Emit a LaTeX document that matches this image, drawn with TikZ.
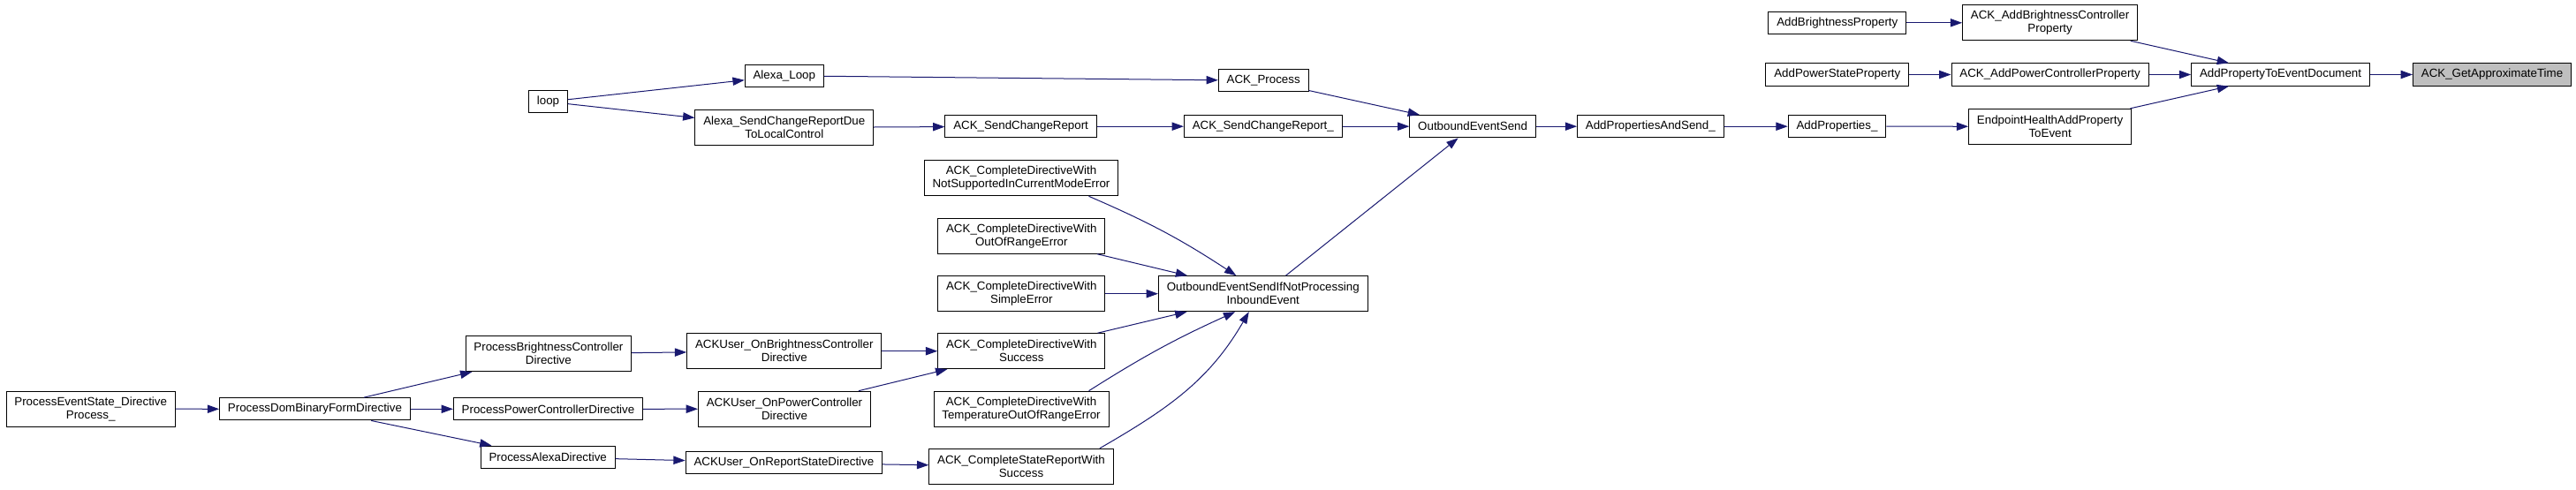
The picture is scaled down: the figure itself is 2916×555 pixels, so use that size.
\documentclass[tikz,border=0pt]{standalone}
\usepackage{fontspec}
\setmainfont{Liberation Sans}
\usetikzlibrary{arrows.meta}
\definecolor{edgeblue}{HTML}{191970}

\begin{document}
\begin{tikzpicture}[
    x=0.75pt, y=-0.75pt,
    font=\fontsize{10}{11.25}\selectfont,
    fn/.style={draw=black, line width=0.75pt, fill=white, align=center,
               inner xsep=7pt, inner ysep=2pt, minimum height=19pt},
    two/.style={fn, minimum height=30pt},
    cur/.style={fn, fill=black!25},
    call/.style={draw=edgeblue, line width=0.75pt,
                 -{Triangle[length=10pt,width=7pt]}}
]
\useasboundingbox (0,0) rectangle (2916,555);

% ── Left part: directive processing ───────────────────────
\node[two] (pes)  at (102.7,463.2) {ProcessEventState\_Directive\\Process\_};
\node[fn]  (pdbf) at (356.5,463.3) {ProcessDomBinaryFormDirective};
\node[fn]  (loop) at (620.5,115.2) {loop};
\node[two] (pbcd) at (620.9,400.7) {ProcessBrightnessController\\Directive};
\node[fn]  (ppcd) at (620.5,463.3) {ProcessPowerControllerDirective};
\node[fn]  (pad)  at (620.2,517.8) {ProcessAlexaDirective};

% ── Alexa / ACKUser column ─────────────────────────────────
\node[fn]  (aloop) at (887.8,85.8)  {Alexa\_Loop};
\node[two] (ascr)  at (887.8,144.5) {Alexa\_SendChangeReportDue\\ToLocalControl};
\node[two] (uobc)  at (887.8,397.7) {ACKUser\_OnBrightnessController\\Directive};
\node[two] (uopc)  at (888.0,463.2) {ACKUser\_OnPowerController\\Directive};
\node[fn]  (uors)  at (887.4,524.3) {ACKUser\_OnReportStateDirective};

% ── ACK_Complete* column ───────────────────────────────────
\node[fn]  (kscr)   at (1155.6,143.2) {ACK\_SendChangeReport};
\node[two] (nsup)   at (1156.0,201.8) {ACK\_CompleteDirectiveWith\\NotSupportedInCurrentModeError};
\node[two] (oor)    at (1156.3,267.2) {ACK\_CompleteDirectiveWith\\OutOfRangeError};
\node[two] (simple) at (1156.3,332.7) {ACK\_CompleteDirectiveWith\\SimpleError};
\node[two] (cdsucc) at (1156.3,397.7) {ACK\_CompleteDirectiveWith\\Success};
\node[two] (temp)   at (1156.0,463.2) {ACK\_CompleteDirectiveWith\\TemperatureOutOfRangeError};
\node[two] (csrs)   at (1156.0,528.3) {ACK\_CompleteStateReportWith\\Success};

% ── Outbound sending ───────────────────────────────────────
\node[fn]  (kproc) at (1430.2,91.3)  {ACK\_Process};
\node[fn]  (kscru) at (1429.8,143.2) {ACK\_SendChangeReport\_};
\node[two] (oeif)  at (1429.8,332.7) {OutboundEventSendIfNotProcessing\\InboundEvent};
\node[fn]  (oes)   at (1667.1,143.2) {OutboundEventSend};
\node[fn]  (apas)  at (1868.3,143.2) {AddPropertiesAndSend\_};

% ── Property building ──────────────────────────────────────
\node[fn]  (abp)    at (2079.8,25.8)  {AddBrightnessProperty};
\node[fn]  (apsp)   at (2079.8,84.5)  {AddPowerStateProperty};
\node[fn]  (aprops) at (2079.5,143.2) {AddProperties\_};
\node[two] (aabcp)  at (2320.6,25.8)  {ACK\_AddBrightnessController\\Property};
\node[fn]  (aapcp)  at (2320.6,84.5)  {ACK\_AddPowerControllerProperty};
\node[two] (ehap)   at (2320.6,143.3) {EndpointHealthAddProperty\\ToEvent};
\node[fn]  (apted)  at (2581.5,84.5)  {AddPropertyToEventDocument};
\node[cur] (gat)    at (2821.0,84.5)  {ACK\_GetApproximateTime};

% ── Calls ──────────────────────────────────────────────────
\foreach \a/\b in {pes/pdbf, pdbf/pbcd, pdbf/ppcd, pdbf/pad,
                   pbcd/uobc, ppcd/uopc, pad/uors,
                   uobc/cdsucc, uopc/cdsucc, uors/csrs,
                   loop/aloop, loop/ascr, aloop/kproc, ascr/kscr,
                   kscr/kscru, kscru/oes, kproc/oes, oeif/oes,
                   oor/oeif, simple/oeif, cdsucc/oeif,
                   oes/apas, apas/aprops, aprops/ehap,
                   abp/aabcp, apsp/aapcp,
                   aabcp/apted, aapcp/apted, ehap/apted, apted/gat}
    \draw[call] (\a) -- (\b);

\draw[call] (nsup.-15) to[bend left=5] (oeif.146);
\draw[call] (temp.15) to[bend left=4] (oeif.213);
\draw[call] (csrs.13) to[out=30, in=240] (oeif.232);

\end{tikzpicture}
\end{document}
